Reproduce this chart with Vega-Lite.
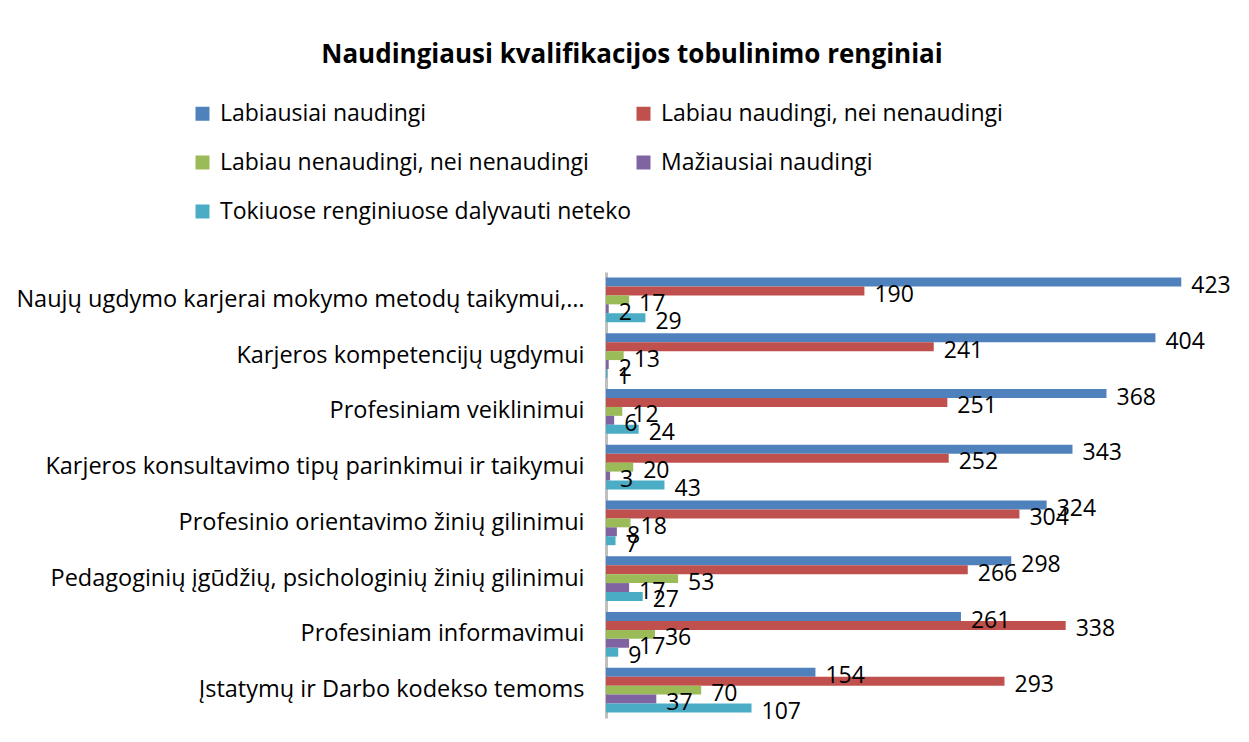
{
  "$schema": "https://vega.github.io/schema/vega-lite/v6.json",
  "width": 612,
  "height": 446,
  "autosize": {"type": "none"},
  "padding": {"left": 606, "top": 272, "right": 31, "bottom": 24},
  "background": "white",
  "title": {
    "text": "Naudingiausi kvalifikacijos tobulinimo renginiai",
    "font": "Open Sans",
    "fontSize": 26,
    "fontWeight": "bold",
    "color": "#000000",
    "anchor": "middle",
    "frame": "group",
    "dx": -280,
    "offset": 34
  },
  "data": {
    "values": [
      {"category": "Naujų ugdymo karjerai mokymo metodų taikymui,…", "series": "Labiausiai naudingi", "value": 423},
      {"category": "Naujų ugdymo karjerai mokymo metodų taikymui,…", "series": "Labiau naudingi, nei nenaudingi", "value": 190},
      {"category": "Naujų ugdymo karjerai mokymo metodų taikymui,…", "series": "Labiau nenaudingi, nei nenaudingi", "value": 17},
      {"category": "Naujų ugdymo karjerai mokymo metodų taikymui,…", "series": "Mažiausiai naudingi", "value": 2},
      {"category": "Naujų ugdymo karjerai mokymo metodų taikymui,…", "series": "Tokiuose renginiuose dalyvauti neteko", "value": 29},
      {"category": "Karjeros kompetencijų ugdymui", "series": "Labiausiai naudingi", "value": 404},
      {"category": "Karjeros kompetencijų ugdymui", "series": "Labiau naudingi, nei nenaudingi", "value": 241},
      {"category": "Karjeros kompetencijų ugdymui", "series": "Labiau nenaudingi, nei nenaudingi", "value": 13},
      {"category": "Karjeros kompetencijų ugdymui", "series": "Mažiausiai naudingi", "value": 2},
      {"category": "Karjeros kompetencijų ugdymui", "series": "Tokiuose renginiuose dalyvauti neteko", "value": 1},
      {"category": "Profesiniam veiklinimui", "series": "Labiausiai naudingi", "value": 368},
      {"category": "Profesiniam veiklinimui", "series": "Labiau naudingi, nei nenaudingi", "value": 251},
      {"category": "Profesiniam veiklinimui", "series": "Labiau nenaudingi, nei nenaudingi", "value": 12},
      {"category": "Profesiniam veiklinimui", "series": "Mažiausiai naudingi", "value": 6},
      {"category": "Profesiniam veiklinimui", "series": "Tokiuose renginiuose dalyvauti neteko", "value": 24},
      {"category": "Karjeros konsultavimo tipų parinkimui ir taikymui", "series": "Labiausiai naudingi", "value": 343},
      {"category": "Karjeros konsultavimo tipų parinkimui ir taikymui", "series": "Labiau naudingi, nei nenaudingi", "value": 252},
      {"category": "Karjeros konsultavimo tipų parinkimui ir taikymui", "series": "Labiau nenaudingi, nei nenaudingi", "value": 20},
      {"category": "Karjeros konsultavimo tipų parinkimui ir taikymui", "series": "Mažiausiai naudingi", "value": 3},
      {"category": "Karjeros konsultavimo tipų parinkimui ir taikymui", "series": "Tokiuose renginiuose dalyvauti neteko", "value": 43},
      {"category": "Profesinio orientavimo žinių gilinimui", "series": "Labiausiai naudingi", "value": 324},
      {"category": "Profesinio orientavimo žinių gilinimui", "series": "Labiau naudingi, nei nenaudingi", "value": 304},
      {"category": "Profesinio orientavimo žinių gilinimui", "series": "Labiau nenaudingi, nei nenaudingi", "value": 18},
      {"category": "Profesinio orientavimo žinių gilinimui", "series": "Mažiausiai naudingi", "value": 8},
      {"category": "Profesinio orientavimo žinių gilinimui", "series": "Tokiuose renginiuose dalyvauti neteko", "value": 7},
      {"category": "Pedagoginių įgūdžių, psichologinių žinių gilinimui", "series": "Labiausiai naudingi", "value": 298},
      {"category": "Pedagoginių įgūdžių, psichologinių žinių gilinimui", "series": "Labiau naudingi, nei nenaudingi", "value": 266},
      {"category": "Pedagoginių įgūdžių, psichologinių žinių gilinimui", "series": "Labiau nenaudingi, nei nenaudingi", "value": 53},
      {"category": "Pedagoginių įgūdžių, psichologinių žinių gilinimui", "series": "Mažiausiai naudingi", "value": 17},
      {"category": "Pedagoginių įgūdžių, psichologinių žinių gilinimui", "series": "Tokiuose renginiuose dalyvauti neteko", "value": 27},
      {"category": "Profesiniam informavimui", "series": "Labiausiai naudingi", "value": 261},
      {"category": "Profesiniam informavimui", "series": "Labiau naudingi, nei nenaudingi", "value": 338},
      {"category": "Profesiniam informavimui", "series": "Labiau nenaudingi, nei nenaudingi", "value": 36},
      {"category": "Profesiniam informavimui", "series": "Mažiausiai naudingi", "value": 17},
      {"category": "Profesiniam informavimui", "series": "Tokiuose renginiuose dalyvauti neteko", "value": 9},
      {"category": "Įstatymų ir Darbo kodekso temoms", "series": "Labiausiai naudingi", "value": 154},
      {"category": "Įstatymų ir Darbo kodekso temoms", "series": "Labiau naudingi, nei nenaudingi", "value": 293},
      {"category": "Įstatymų ir Darbo kodekso temoms", "series": "Labiau nenaudingi, nei nenaudingi", "value": 70},
      {"category": "Įstatymų ir Darbo kodekso temoms", "series": "Mažiausiai naudingi", "value": 37},
      {"category": "Įstatymų ir Darbo kodekso temoms", "series": "Tokiuose renginiuose dalyvauti neteko", "value": 107}
    ]
  },
  "encoding": {
    "y": {
      "field": "category",
      "type": "nominal",
      "sort": null,
      "scale": {"paddingInner": 0.2, "paddingOuter": 0.1},
      "axis": {
        "title": null,
        "ticks": false,
        "labelFont": "Open Sans",
        "labelFontSize": 23.5,
        "labelColor": "#000000",
        "labelPadding": 22,
        "labelLimit": 600,
        "domainColor": "#bfbfbf",
        "domainWidth": 3,
        "grid": false
      }
    },
    "x": {
      "field": "value",
      "type": "quantitative",
      "scale": {"domain": [0, 450], "nice": false},
      "axis": null
    },
    "yOffset": {
      "field": "series",
      "type": "nominal",
      "sort": ["Labiausiai naudingi", "Labiau naudingi, nei nenaudingi", "Labiau nenaudingi, nei nenaudingi", "Mažiausiai naudingi", "Tokiuose renginiuose dalyvauti neteko"],
      "scale": {"paddingInner": 0, "paddingOuter": 0}
    }
  },
  "layer": [
    {
      "mark": {"type": "bar", "cornerRadius": 0},
      "encoding": {
        "color": {
          "field": "series",
          "type": "nominal",
          "sort": ["Labiausiai naudingi", "Labiau naudingi, nei nenaudingi", "Labiau nenaudingi, nei nenaudingi", "Mažiausiai naudingi", "Tokiuose renginiuose dalyvauti neteko"],
          "scale": {
            "domain": ["Labiausiai naudingi", "Labiau naudingi, nei nenaudingi", "Labiau nenaudingi, nei nenaudingi", "Mažiausiai naudingi", "Tokiuose renginiuose dalyvauti neteko"],
            "range": ["#4F81BD", "#C0504D", "#9BBB59", "#8064A2", "#4BACC6"]
          },
          "legend": {
            "title": null,
            "orient": "none",
            "direction": "horizontal",
            "legendX": -415,
            "legendY": -170,
            "columns": 2,
            "columnPadding": -50,
            "rowPadding": 25,
            "symbolType": "square",
            "symbolSize": 196,
            "symbolStrokeWidth": 0,
            "labelFont": "Open Sans",
            "labelFontSize": 23,
            "labelColor": "#000000",
            "labelOffset": 6,
            "labelLimit": 600
          }
        }
      }
    },
    {
      "mark": {"type": "text", "align": "left", "baseline": "middle", "dx": 10, "dy": 4, "font": "Open Sans", "fontSize": 23, "color": "#000000"},
      "encoding": {
        "text": {"field": "value", "type": "quantitative"}
      }
    }
  ],
  "config": {
    "view": {"stroke": null}
  }
}
